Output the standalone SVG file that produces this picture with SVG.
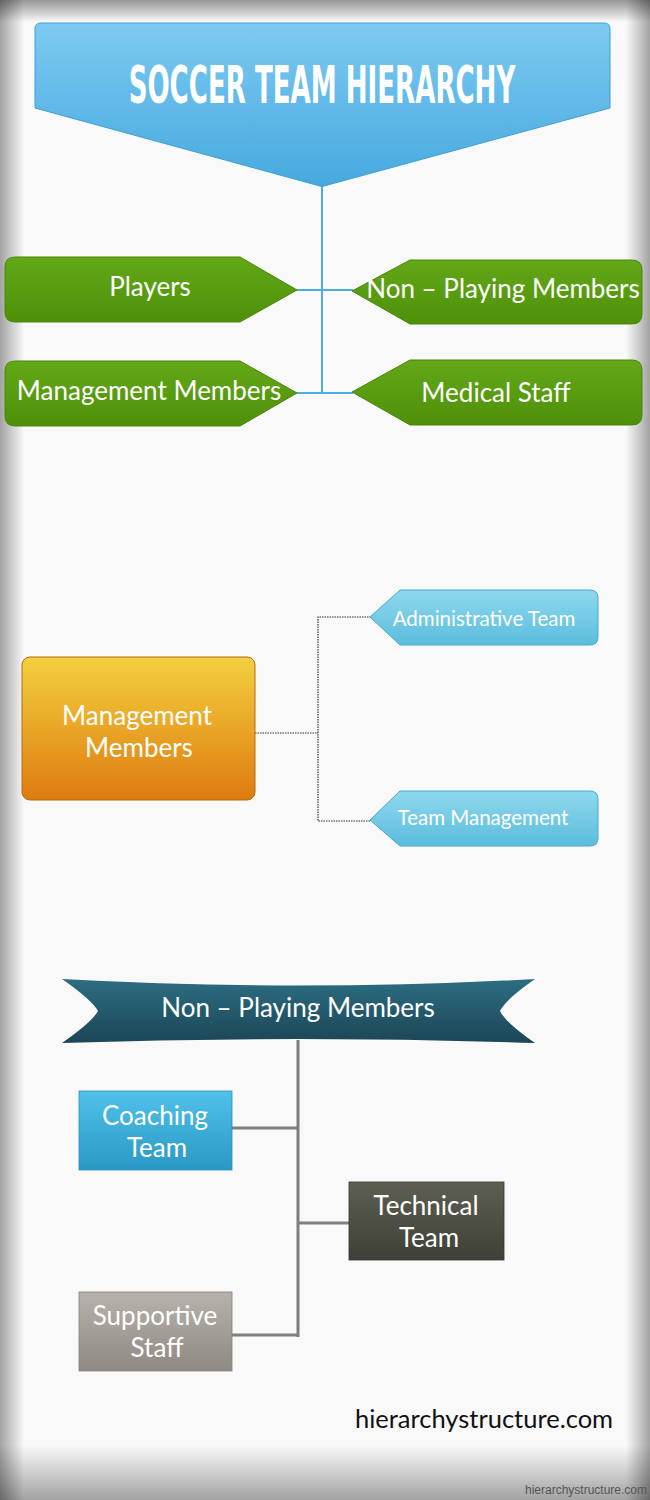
<svg xmlns="http://www.w3.org/2000/svg" width="650" height="1500" viewBox="0 0 650 1500">
<defs>
<linearGradient id="gTitle" x1="0" y1="0" x2="0" y2="1"><stop offset="0" stop-color="#7ccaf1"/><stop offset="1" stop-color="#47a9de"/></linearGradient>
<linearGradient id="gGreen" x1="0" y1="0" x2="0" y2="1"><stop offset="0" stop-color="#62a818"/><stop offset="1" stop-color="#4f9008"/></linearGradient>
<linearGradient id="gOrange" x1="0" y1="0" x2="0" y2="1"><stop offset="0" stop-color="#f4d03f"/><stop offset="1" stop-color="#de7b0f"/></linearGradient>
<linearGradient id="gTag" x1="0" y1="0" x2="0" y2="1"><stop offset="0" stop-color="#8fd8ee"/><stop offset="1" stop-color="#5bbddd"/></linearGradient>
<linearGradient id="gRibbon" x1="0" y1="0" x2="0" y2="1"><stop offset="0" stop-color="#2c6d82"/><stop offset="1" stop-color="#1c4656"/></linearGradient>
<linearGradient id="gCoach" x1="0" y1="0" x2="0" y2="1"><stop offset="0" stop-color="#4fc2ea"/><stop offset="1" stop-color="#2a98c4"/></linearGradient>
<linearGradient id="gTech" x1="0" y1="0" x2="0" y2="1"><stop offset="0" stop-color="#5e5f52"/><stop offset="1" stop-color="#3e4037"/></linearGradient>
<linearGradient id="gSupp" x1="0" y1="0" x2="0" y2="1"><stop offset="0" stop-color="#b7b2ac"/><stop offset="1" stop-color="#8e8983"/></linearGradient>
<linearGradient id="vL" x1="0" y1="0" x2="1" y2="0"><stop offset="0" stop-color="#000" stop-opacity="0.35"/><stop offset="1" stop-color="#000" stop-opacity="0"/></linearGradient>
<linearGradient id="vR" x1="1" y1="0" x2="0" y2="0"><stop offset="0" stop-color="#000" stop-opacity="0.35"/><stop offset="1" stop-color="#000" stop-opacity="0"/></linearGradient>
<linearGradient id="vT" x1="0" y1="0" x2="0" y2="1"><stop offset="0" stop-color="#000" stop-opacity="0.4"/><stop offset="1" stop-color="#000" stop-opacity="0"/></linearGradient>
<linearGradient id="vB" x1="0" y1="1" x2="0" y2="0"><stop offset="0" stop-color="#000" stop-opacity="0.35"/><stop offset="1" stop-color="#000" stop-opacity="0"/></linearGradient>
<style>
.lbl{font-family:Lato,"Open Sans",sans-serif;fill:#fff;text-anchor:middle}
.big{font-size:26px}
.tag{font-size:20.5px}
.box{font-size:26px}
.title{font-family:"DejaVu Sans Condensed","DejaVu Sans",sans-serif;font-weight:bold;font-size:29px;fill:#fff;text-anchor:middle}
.green{fill:url(#gGreen);stroke:#4a8607;stroke-width:1}
.tagshape{fill:url(#gTag);stroke:#4aa8cc;stroke-width:1}
</style>
</defs>
<rect x="0" y="0" width="650" height="1500" fill="#f9f9f9"/>
<rect x="0" y="0" width="24" height="1500" fill="url(#vL)"/>
<rect x="626" y="0" width="24" height="1500" fill="url(#vR)"/>
<rect x="0" y="0" width="650" height="22" fill="url(#vT)"/>
<rect x="0" y="1445" width="650" height="55" fill="url(#vB)"/>

<g id="connectors">
<g stroke="#4aaee0" stroke-width="2" fill="none">
<line x1="322" y1="186" x2="322" y2="394"/>
<line x1="296" y1="290" x2="353" y2="290"/>
<line x1="296" y1="393" x2="353" y2="393"/>
</g>
<g stroke="#333" stroke-width="1.2" stroke-dasharray="1.5 1" fill="none">
<polyline points="255,733 318,733"/>
<polyline points="371,617 318,617 318,821 371,821"/>
</g>
<g stroke="#7e7e7e" stroke-width="3" fill="none">
<line x1="298" y1="1040" x2="298" y2="1337"/>
<line x1="232" y1="1128" x2="298" y2="1128"/>
<line x1="298" y1="1223" x2="349" y2="1223"/>
<line x1="232" y1="1335" x2="298" y2="1335"/>
</g>
</g>

<g id="title">
<path d="M41,23 H604 Q610,23 610,29 V108 L324,186 Q322,187 320,186 L35,108 V29 Q35,23 41,23 Z" fill="url(#gTitle)" stroke="#3f9fd3" stroke-width="1"/>
<text class="title" transform="translate(322,103) scale(1,1.8)" x="0" y="0">SOCCER TEAM HIERARCHY</text>
</g>

<g id="players">
<path d="M15,257 H240 L297,290 L240,322 H15 Q5,322 5,312 V267 Q5,257 15,257 Z" class="green"/>
<text class="lbl big" x="150" y="296">Players</text>
</g>
<g id="non-playing">
<path d="M632,260 H410 L352,291 L410,324 H632 Q642,324 642,314 V270 Q642,260 632,260 Z" class="green"/>
<text class="lbl big" x="503" y="298">Non – Playing Members</text>
</g>
<g id="management">
<path d="M15,361 H240 L297,393 L240,426 H15 Q5,426 5,416 V371 Q5,361 15,361 Z" class="green"/>
<text class="lbl big" x="149" y="400">Management Members</text>
</g>
<g id="medical">
<path d="M632,360 H410 L352,392 L410,425 H632 Q642,425 642,415 V370 Q642,360 632,360 Z" class="green"/>
<text class="lbl big" x="496" y="402">Medical Staff</text>
</g>

<g id="management-members">
<rect x="22" y="657" width="233" height="143" rx="8" fill="url(#gOrange)" stroke="#b56d12" stroke-width="1"/>
<text class="lbl box" x="137" y="725">Management</text>
<text class="lbl box" x="139" y="757">Members</text>
</g>
<g id="administrative-team">
<path d="M590,590 H400 L370,617 L400,645 H590 Q598,645 598,637 V598 Q598,590 590,590 Z" class="tagshape"/>
<text class="lbl tag" x="484" y="626">Administrative Team</text>
</g>
<g id="team-management">
<path d="M590,791 H400 L370,820 L400,846 H590 Q598,846 598,838 V799 Q598,791 590,791 Z" class="tagshape"/>
<text class="lbl tag" x="483" y="825">Team Management</text>
</g>

<g id="non-playing-members">
<path d="M62,979 Q298,992 535,979 Q505,1000 500,1011 Q505,1022 535,1043 Q298,1035 62,1043 Q92,1022 98,1011 Q92,1000 62,979 Z" fill="url(#gRibbon)"/>
<text class="lbl big" x="298" y="1017">Non – Playing Members</text>
</g>

<g id="coaching-team">
<rect x="79" y="1091" width="153" height="79" fill="url(#gCoach)" stroke="#2a8fb8" stroke-width="0.8"/>
<text class="lbl box" x="155" y="1125">Coaching</text>
<text class="lbl box" x="157" y="1157">Team</text>
</g>
<g id="technical-team">
<rect x="349" y="1182" width="155" height="78" fill="url(#gTech)" stroke="#33352d" stroke-width="0.8"/>
<text class="lbl box" x="426" y="1215">Technical</text>
<text class="lbl box" x="429" y="1247">Team</text>
</g>
<g id="supportive-staff">
<rect x="79" y="1292" width="153" height="79" fill="url(#gSupp)" stroke="#85807a" stroke-width="0.8"/>
<text class="lbl box" x="155" y="1325">Supportive</text>
<text class="lbl box" x="157" y="1357">Staff</text>
</g>

<text x="484" y="1428" font-family="Lato,'Open Sans',sans-serif" font-size="25.5" fill="#111" text-anchor="middle">hierarchystructure.com</text>
<text x="647" y="1494" font-family="'Liberation Sans',Arial,sans-serif" font-size="12" fill="#555" text-anchor="end">hierarchystructure.com</text>
</svg>
